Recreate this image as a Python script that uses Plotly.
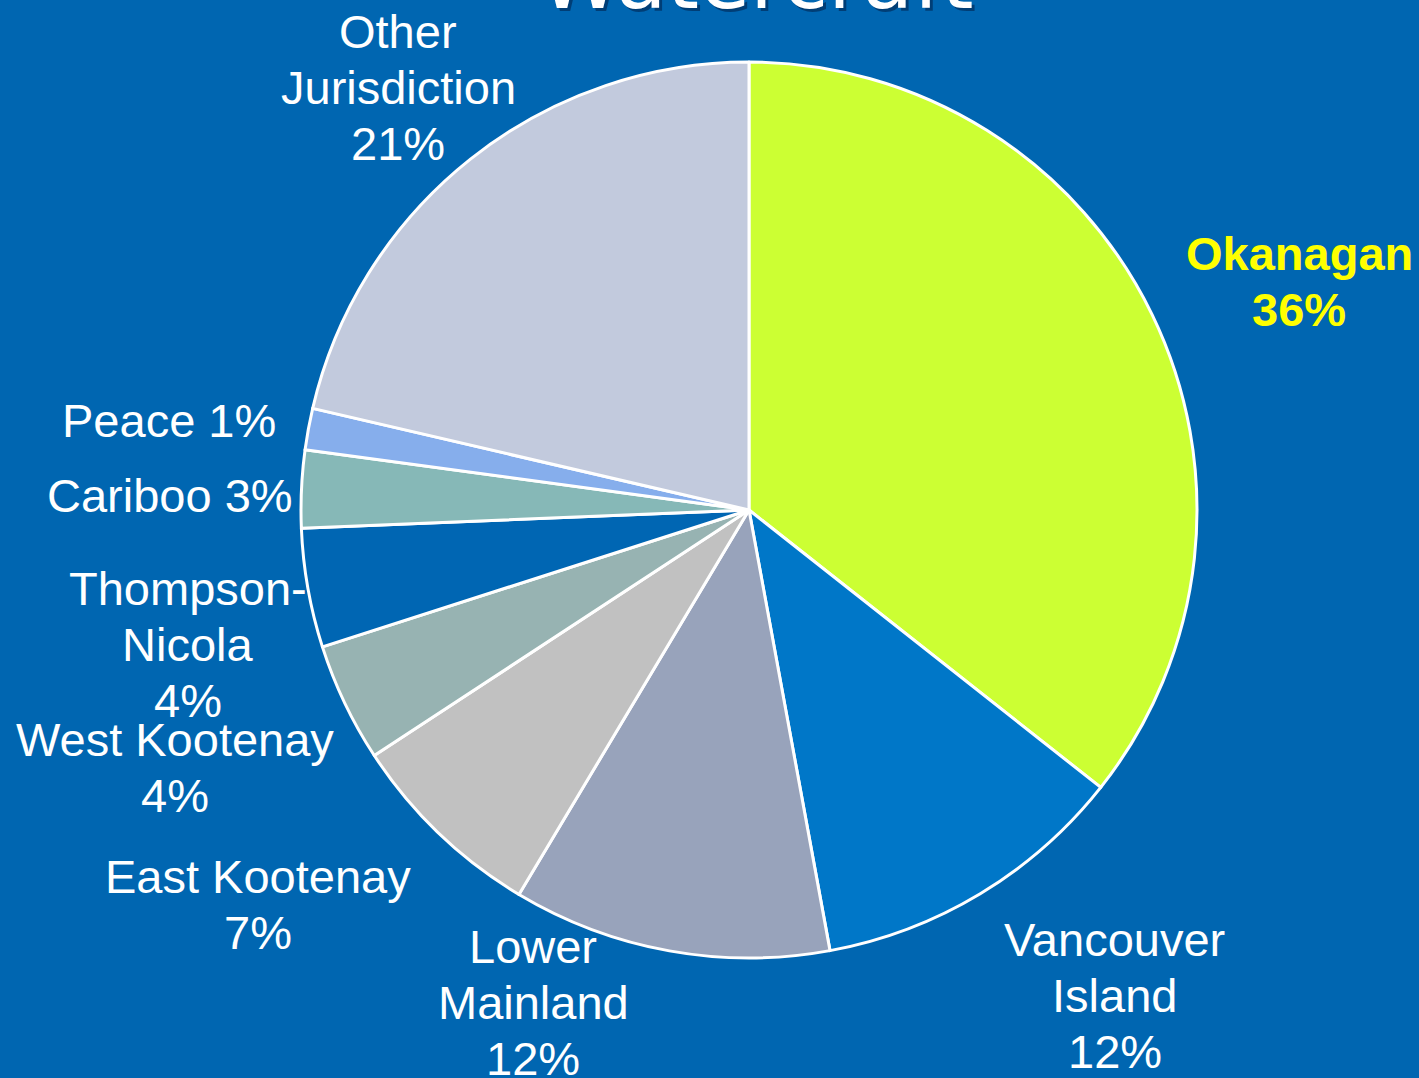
import math
import plotly.graph_objects as go

# ---- data ----
regions = ["Okanagan", "Vancouver Island", "Lower Mainland", "East Kootenay",
           "West Kootenay", "Thompson-Nicola", "Cariboo", "Peace", "Other Jurisdiction"]
shares = [35.7, 11.5, 11.5, 7.2, 4.3, 4.3, 2.8, 1.5, 21.4]
label_lines = [["Okanagan", "36%"], ["Vancouver", "Island", "12%"], ["Lower", "Mainland", "12%"],
               ["East Kootenay", "7%"], ["West Kootenay", "4%"], ["Thompson-", "Nicola", "4%"],
               ["Cariboo 3%"], ["Peace 1%"], ["Other", "Jurisdiction", "21%"]]
title_text = "Watercraft"

# ---- styles ----
BG = "#0066B1"
slice_colors = ["#CCFF33", "#0077C8", "#98A3BB", "#C1C1C1", "#97B3B2",
                "#0066B3", "#86B8B7", "#86AEEC", "#C2CADD"]
label_colors = ["#FFFF00"] + ["#FFFFFF"] * 8
label_bold = [True] + [False] * 8
# label placement relative to slice mid-angle: (angle nudge in deg, radius factor)
label_nudge = [(3.3, 1.33), (-5.9, 1.357), (13.4, 1.20), (7.4, 1.406), (1.35, 1.404),
               (-3.4, 1.288), (-1.3, 1.292), (-1.65, 1.31), (-1.25, 1.225)]
LABEL_SIZE = 47
LINE_STEP = 56  # px between label lines

W, H = 1419, 1078
CX, CY, R = 749, 510, 448  # pixel geometry of the pie

fig = go.Figure()
fig.add_trace(go.Pie(
    labels=regions, values=shares, sort=False, direction="clockwise", rotation=0,
    marker=dict(colors=slice_colors, line=dict(color="#FFFFFF", width=3)),
    textinfo="none", hoverinfo="label+percent", showlegend=False,
    domain=dict(x=[(CX - R) / W, (CX + R) / W], y=[1 - (CY + R) / H, 1 - (CY - R) / H]),
))

total = sum(shares)
annotations = []
cum = 0.0
for i, v in enumerate(shares):
    mid = (cum + v / 2) / total * 360.0
    cum += v
    dth, k = label_nudge[i]
    th = math.radians(mid + dth)
    px = CX + k * R * math.sin(th)
    py = CY - k * R * math.cos(th)
    lines = label_lines[i]
    n = len(lines)
    for j, line in enumerate(lines):
        ly = py + (j - (n - 1) / 2) * LINE_STEP
        txt = f"<b>{line}</b>" if label_bold[i] else line
        annotations.append(dict(
            x=px / W, y=1 - ly / H, xref="paper", yref="paper", text=txt, showarrow=False,
            xanchor="center", yanchor="middle", align="center",
            font=dict(family="Liberation Sans, Arial, sans-serif", size=LABEL_SIZE,
                      color=label_colors[i]),
        ))

# title (cut off at the top) with soft shadow
for col, dx, dy in [("rgba(0,30,70,0.55)", 3, -3), ("#FFFFFF", 0, 0)]:
    annotations.append(dict(
        x=756 / W, y=1 + 20 / H, xref="paper", yref="paper", text=title_text, showarrow=False,
        xanchor="center", yanchor="middle", xshift=dx, yshift=dy,
        font=dict(family="DejaVu Sans, Verdana, sans-serif", size=83, color=col),
    ))

fig.update_layout(
    width=W, height=H, margin=dict(l=0, r=0, t=0, b=0),
    paper_bgcolor=BG, plot_bgcolor=BG, annotations=annotations,
)
fig.write_html("out.html")
